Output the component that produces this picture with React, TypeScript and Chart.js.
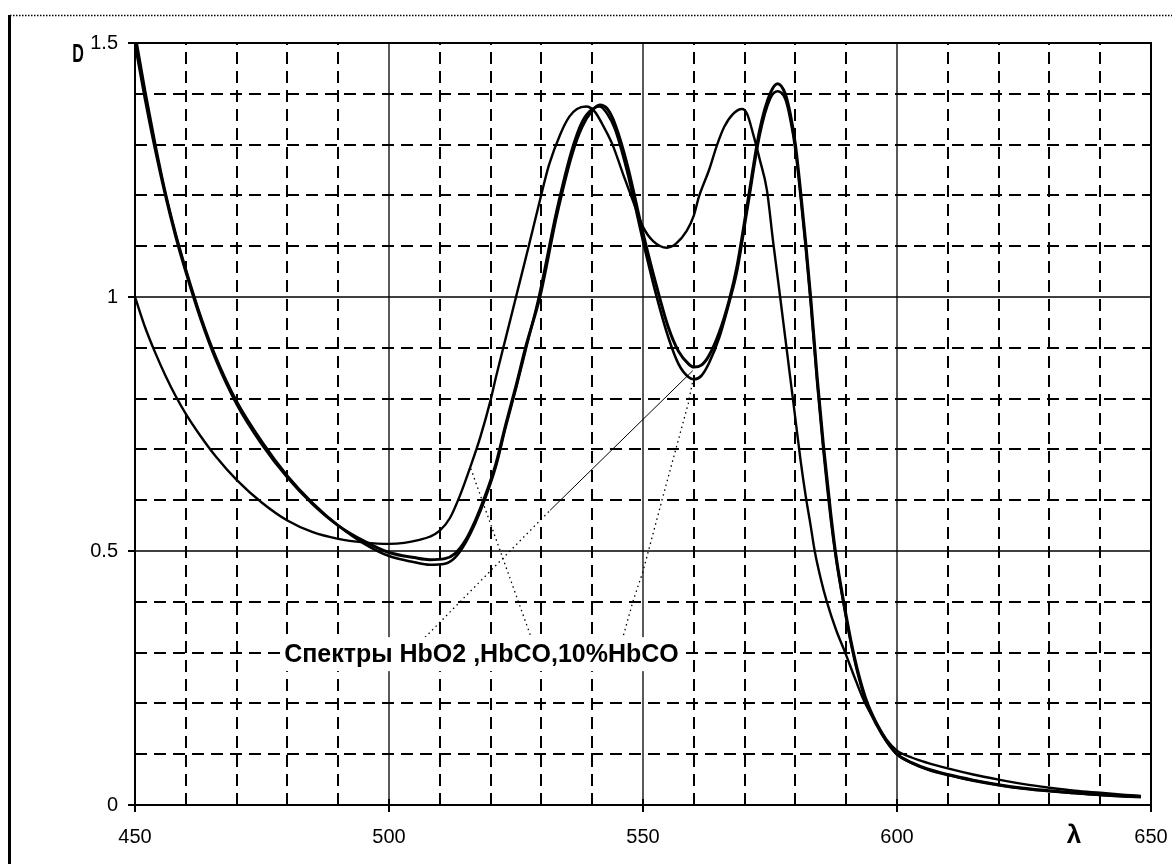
import React, { useEffect, useRef } from "react";
import { Chart, registerables } from "chart.js";

Chart.register(...registerables);

// ---- Data ----
const hbo2Wavelength = [450, 452, 454, 456, 458, 460, 463, 466, 470, 475, 480, 485, 490, 495, 500, 505, 508, 511, 513, 515, 517, 519, 521, 523, 525, 527, 529.7, 533, 536, 538, 540, 541.5, 543, 544.5, 546.8, 550, 552.7, 555, 557, 559, 560, 561.5, 563, 565, 567, 568.5, 570.5, 573, 575, 576.5, 578, 579, 580, 581, 582, 583, 584.3, 585.5, 587, 588, 589.5, 591, 592.5, 594, 596, 598, 600, 603, 606, 610, 615, 620, 625, 630, 635, 640, 645, 648];
const hbo2D = [1.5, 1.39, 1.29, 1.2, 1.12, 1.05, 0.955, 0.875, 0.79, 0.71, 0.645, 0.592, 0.55, 0.52, 0.497, 0.487, 0.483, 0.485, 0.495, 0.52, 0.56, 0.61, 0.67, 0.75, 0.825, 0.905, 1.0, 1.16, 1.28, 1.335, 1.367, 1.378, 1.37, 1.34, 1.264, 1.126, 1.02, 0.94, 0.893, 0.868, 0.862, 0.866, 0.885, 0.93, 0.995, 1.06, 1.18, 1.33, 1.4, 1.42, 1.4, 1.36, 1.3, 1.21, 1.11, 1.0, 0.84, 0.71, 0.57, 0.49, 0.4, 0.32, 0.255, 0.205, 0.16, 0.125, 0.1, 0.083, 0.071, 0.06, 0.049, 0.04, 0.033, 0.028, 0.024, 0.02, 0.017, 0.016];

const mix10Wavelength = [450, 452, 454, 456, 458, 460, 463, 466, 470, 475, 480, 485, 490, 495, 500, 505, 508, 511, 513, 515, 517, 519, 521, 523, 525, 527, 529.5, 533, 536, 538, 540, 541.5, 543, 544.5, 546.8, 550, 552.7, 555, 557, 559, 560, 561.5, 563, 565, 567, 568.5, 570.5, 573, 575, 576.5, 578, 579, 580, 581, 582, 583, 584.3, 585.5, 587, 588, 589.5, 591, 592.5, 594, 596, 598, 600, 603, 606, 610, 615, 620, 625, 630, 635, 640, 645, 648];
const mix10D = [1.52, 1.405, 1.3, 1.205, 1.125, 1.055, 0.96, 0.88, 0.795, 0.715, 0.648, 0.594, 0.55, 0.515, 0.49, 0.478, 0.473, 0.475, 0.487, 0.515, 0.555, 0.605, 0.665, 0.745, 0.82, 0.9, 1.0, 1.17, 1.29, 1.345, 1.37, 1.375, 1.36, 1.33, 1.25, 1.11, 1.0, 0.92, 0.868, 0.842, 0.838, 0.845, 0.87, 0.92, 0.99, 1.05, 1.17, 1.32, 1.39, 1.405, 1.39, 1.35, 1.29, 1.2, 1.1, 0.99, 0.83, 0.7, 0.56, 0.485, 0.395, 0.315, 0.25, 0.2, 0.157, 0.124, 0.1, 0.082, 0.07, 0.059, 0.048, 0.039, 0.032, 0.027, 0.023, 0.02, 0.017, 0.016];

const hbcoWavelength = [450, 452, 454, 456, 458, 460, 463, 466, 470, 475, 480, 485, 490, 495, 500, 503, 506, 508, 510, 512, 514, 516, 518, 520, 521, 523, 525, 527.5, 529.7, 531.5, 533.7, 535.5, 537, 538.8, 540.5, 542, 544, 546, 548, 550, 552, 554.7, 556.5, 558.6, 560, 561, 563, 564.6, 566, 567.7, 569.5, 570.5, 571.7, 573, 574.4, 575.6, 577, 578, 579, 580, 581, 582, 583, 583.8, 585, 586.2, 588, 589.8, 591.5, 593.5, 596, 598, 600, 603, 606, 610, 615, 620, 625, 630, 635, 640, 645, 648];
const hbcoD = [1.0, 0.94, 0.89, 0.845, 0.805, 0.77, 0.725, 0.685, 0.64, 0.595, 0.56, 0.537, 0.524, 0.517, 0.514, 0.516, 0.522, 0.528, 0.54, 0.565, 0.61, 0.665, 0.725, 0.797, 0.84, 0.92, 1.0, 1.1, 1.19, 1.26, 1.32, 1.355, 1.37, 1.375, 1.365, 1.34, 1.3, 1.244, 1.19, 1.138, 1.11, 1.097, 1.105, 1.13, 1.16, 1.197, 1.25, 1.3, 1.335, 1.36, 1.37, 1.36, 1.32, 1.27, 1.21, 1.11, 1.0, 0.92, 0.84, 0.76, 0.68, 0.61, 0.55, 0.5, 0.445, 0.4, 0.345, 0.3, 0.255, 0.205, 0.16, 0.128, 0.107, 0.093, 0.083, 0.072, 0.06, 0.05, 0.041, 0.034, 0.028, 0.024, 0.02, 0.018];

// leader lines from the caption to the curves
const leaderAWavelength = [507.1, 531.7];
const leaderAD = [0.33, 0.58];
const leaderASolidWavelength = [531.7, 559.8];
const leaderASolidD = [0.58, 0.855];
const leaderBWavelength = [527.8, 516];
const leaderBD = [0.335, 0.665];
const leaderCWavelength = [545.9, 548, 550, 554, 558.9, 559.8];
const leaderCD = [0.325, 0.4, 0.46, 0.61, 0.79, 0.835];

// axes / ticks
const xTickValues = [450, 500, 550, 600, 650];
const yTickValues = [0, 0.5, 1, 1.5];
const xGridValues = [460, 470, 480, 490, 500, 510, 520, 530, 540, 550, 560, 570, 580, 590, 600, 610, 620, 630, 640];
const yGridValues = [0.1, 0.2, 0.3, 0.4, 0.5, 0.6, 0.7, 0.8, 0.9, 1.0, 1.1, 1.2, 1.3, 1.4];
const xSolidGrid = [500, 550, 600];
const ySolidGrid = [0.5, 1.0];

const captionText = "Спектры HbO2 ,HbCO,10%HbCO";
const captionWavelength = 518.2;
const captionD = 0.297;
const yAxisTitle = "D";
const xAxisTitle = "λ";

const FONT = '"Liberation Sans", Arial, sans-serif';

const toPoints = (xs: number[], ys: number[]) => xs.map((x, i) => ({ x, y: ys[i] }));

const framePlugin = {
  id: "frame",
  beforeDraw(chart: any) {
    const ctx = chart.ctx;
    ctx.save();
    ctx.fillStyle = "#fff";
    ctx.fillRect(0, 0, chart.width, chart.height);
    // dotted top border of the picture
    ctx.strokeStyle = "#000";
    ctx.lineWidth = 1.5;
    ctx.setLineDash([1.5, 1.5]);
    ctx.beginPath();
    ctx.moveTo(10, 15.5);
    ctx.lineTo(chart.width, 15.5);
    ctx.stroke();
    // thick left border
    ctx.setLineDash([]);
    ctx.lineWidth = 3;
    ctx.beginPath();
    ctx.moveTo(9.5, 15);
    ctx.lineTo(9.5, chart.height);
    ctx.stroke();
    ctx.restore();
  },
  beforeDatasetsDraw(chart: any) {
    const { ctx, chartArea, scales } = chart;
    const { left, right, top, bottom } = chartArea;
    const xs = scales.x;
    const ys = scales.y;
    ctx.save();
    ctx.strokeStyle = "#000";
    for (const v of xGridValues) {
      const solid = xSolidGrid.includes(v);
      const p = Math.round(xs.getPixelForValue(v));
      ctx.lineWidth = solid ? 1.3 : 2;
      ctx.setLineDash(solid ? [] : [12, 7]);
      ctx.beginPath();
      ctx.moveTo(p, bottom);
      ctx.lineTo(p, top);
      ctx.stroke();
    }
    for (const v of yGridValues) {
      const solid = ySolidGrid.some((s) => Math.abs(s - v) < 1e-6);
      const p = Math.round(ys.getPixelForValue(v));
      ctx.lineWidth = solid ? 1.3 : 2;
      ctx.setLineDash(solid ? [] : [12, 7]);
      ctx.beginPath();
      ctx.moveTo(left, p);
      ctx.lineTo(right, p);
      ctx.stroke();
    }
    ctx.setLineDash([]);
    ctx.lineWidth = 2;
    ctx.strokeRect(left, top, right - left, bottom - top);
    // major tick marks
    for (const v of xTickValues) {
      const p = Math.round(xs.getPixelForValue(v));
      ctx.beginPath();
      ctx.moveTo(p, bottom - 6);
      ctx.lineTo(p, bottom + 7);
      ctx.stroke();
    }
    for (const v of yTickValues) {
      const p = Math.round(ys.getPixelForValue(v));
      ctx.beginPath();
      ctx.moveTo(left - 7, p);
      ctx.lineTo(left, p);
      ctx.stroke();
    }
    ctx.restore();
  },
  afterDatasetsDraw(chart: any) {
    const { ctx, scales } = chart;
    const cx = scales.x.getPixelForValue(captionWavelength);
    const cy = scales.y.getPixelForValue(captionD);
    ctx.save();
    ctx.font = `bold 25px ${FONT}`;
    const w = ctx.measureText(captionText).width;
    ctx.fillStyle = "#fff";
    ctx.fillRect(cx - w / 2 - 4, cy - 17, w + 8, 34);
    ctx.fillStyle = "#000";
    ctx.textAlign = "center";
    ctx.textBaseline = "middle";
    ctx.fillText(captionText, cx, cy + 1);
    ctx.restore();
  },
  afterDraw(chart: any) {
    const { ctx, chartArea } = chart;
    ctx.save();
    ctx.fillStyle = "#000";
    ctx.textBaseline = "alphabetic";
    ctx.textAlign = "center";
    // "D" near the top of the y axis
    ctx.save();
    ctx.translate(chartArea.left - 57, chartArea.top + 19);
    ctx.scale(0.62, 1);
    ctx.font = `bold 26px ${FONT}`;
    ctx.fillText(yAxisTitle, 0, 0);
    ctx.restore();
    // "λ" near the right end of the x axis
    ctx.font = `bold 26px ${FONT}`;
    ctx.fillText(xAxisTitle, chartArea.right - 77, chartArea.bottom + 38);
    ctx.restore();
  },
};

export default function App() {
  const canvasRef = useRef<HTMLCanvasElement | null>(null);

  useEffect(() => {
    if (!canvasRef.current) return;
    const curve = (data: any[], width: number) => ({
      data,
      borderColor: "#000",
      backgroundColor: "#000",
      borderWidth: width,
      pointRadius: 0,
      fill: false,
      cubicInterpolationMode: "monotone" as const,
    });
    const leader = (data: any[], dash: number[], width: number) => ({
      data,
      borderColor: "#000",
      borderWidth: width,
      borderDash: dash,
      pointRadius: 0,
      fill: false,
      tension: 0,
    });
    const chart = new Chart(canvasRef.current, {
      type: "line",
      data: {
        datasets: [
          leader(toPoints(leaderAWavelength, leaderAD), [1.5, 3.5], 1.3),
          leader(toPoints(leaderASolidWavelength, leaderASolidD), [], 1),
          leader(toPoints(leaderBWavelength, leaderBD), [1.5, 3.5], 1.3),
          leader(toPoints(leaderCWavelength, leaderCD), [1.5, 3.5], 1.3),
          { label: "HbCO", ...curve(toPoints(hbcoWavelength, hbcoD), 2.4) },
          { label: "10% HbCO", ...curve(toPoints(mix10Wavelength, mix10D), 2.6) },
          { label: "HbO2", ...curve(toPoints(hbo2Wavelength, hbo2D), 3) },
        ],
      },
      options: {
        animation: false,
        responsive: false,
        devicePixelRatio: 1,
        layout: { padding: { top: 43, right: 21, left: 0, bottom: 0 } },
        plugins: { legend: { display: false }, tooltip: { enabled: false } },
        scales: {
          x: {
            type: "linear",
            min: 450,
            max: 650,
            afterFit: (s: any) => {
              s.height = 59;
              s.paddingLeft = 0;
              s.paddingRight = 0;
            },
            afterBuildTicks: (s: any) => {
              s.ticks = xTickValues.map((v) => ({ value: v }));
            },
            grid: { display: false, drawTicks: false },
            border: { display: false },
            ticks: {
              color: "#000",
              padding: 20,
              maxRotation: 0,
              autoSkip: false,
              font: { family: FONT, size: 20 },
              callback: (v: any) => String(v),
            },
          },
          y: {
            type: "linear",
            min: 0,
            max: 1.5,
            afterFit: (s: any) => {
              s.width = 135;
            },
            afterBuildTicks: (s: any) => {
              s.ticks = yTickValues.map((v) => ({ value: v }));
            },
            grid: { display: false, drawTicks: false },
            border: { display: false },
            ticks: {
              color: "#000",
              padding: 17,
              autoSkip: false,
              font: { family: FONT, size: 20 },
              callback: (v: any) => String(v),
            },
          },
        },
      },
      plugins: [framePlugin],
    });
    return () => chart.destroy();
  }, []);

  return (
    <div style={{ position: "fixed", left: 0, top: 0, width: 1172, height: 864, background: "#fff" }}>
      <canvas ref={canvasRef} width={1172} height={864} style={{ display: "block" }} />
    </div>
  );
}
